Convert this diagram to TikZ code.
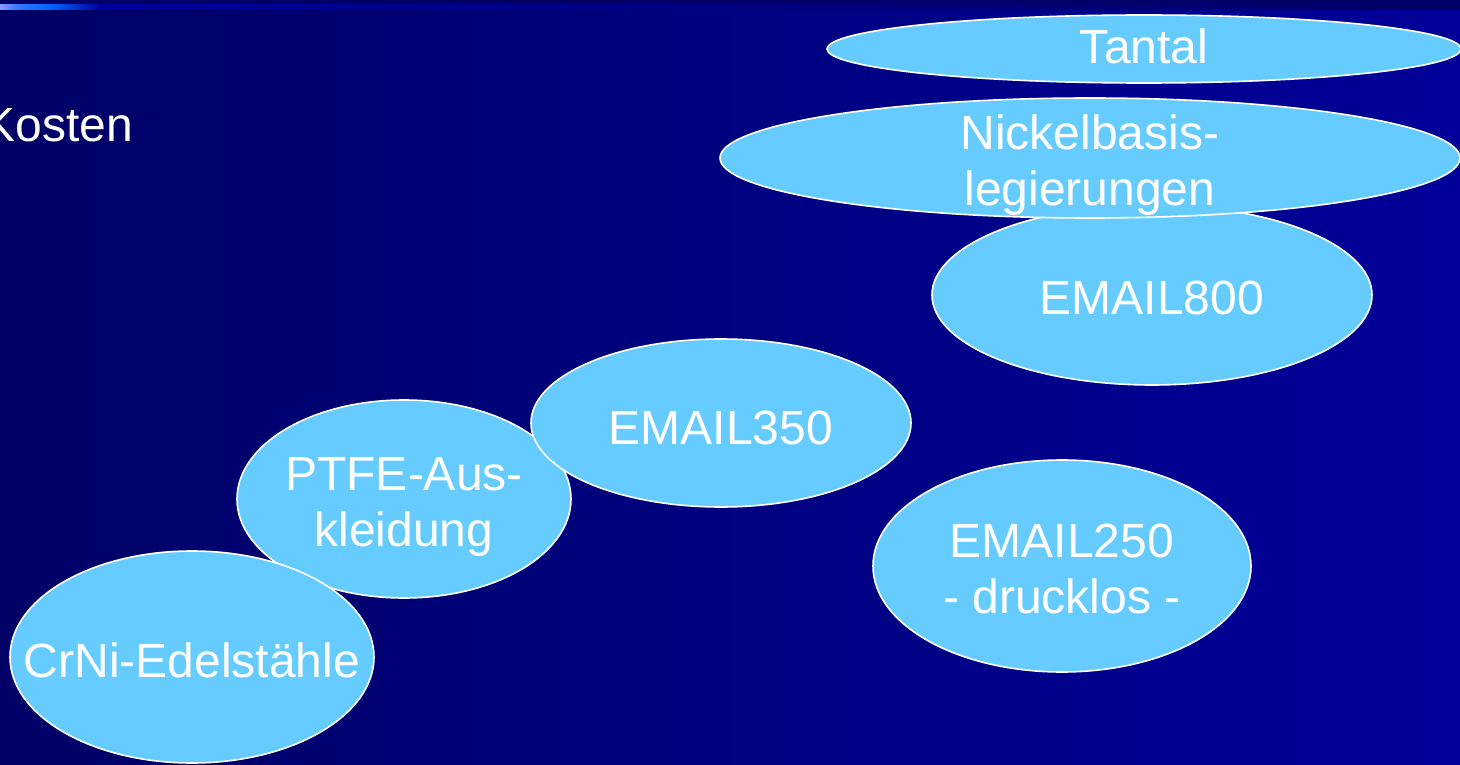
\documentclass[tikz,border=0pt]{standalone}
\usepackage{fontspec}
\setmainfont{Liberation Sans}
\usetikzlibrary{shapes.geometric}
\definecolor{bgL}{HTML}{000066}
\definecolor{bgR}{HTML}{000099}
\definecolor{sky}{HTML}{66CCFF}
\definecolor{stripA}{HTML}{8899FF}
\definecolor{stripB}{HTML}{3377FF}
\definecolor{stripC}{HTML}{0066FF}
\tikzset{
  blob/.style={ellipse, draw=white, line width=1.6pt, fill=sky, inner sep=0pt},
  txt/.style={text=white, inner sep=0pt, anchor=base, font=\fontsize{48}{55}\selectfont}
}
\begin{document}
\begin{tikzpicture}[x=1pt,y=-1pt]
\useasboundingbox (0,0) rectangle (1460,765);
\clip (0,0) rectangle (1460,765);
% background
\fill[bgL] (0,0) rectangle (1460,10);
\shade[left color=bgL, right color=bgR] (0,10) rectangle (1460,765);
% top strip
\shade[left color=stripA, right color=stripB] (0,5) rectangle (17,10);
\shade[left color=stripB, right color=stripC] (17,5) rectangle (50,10);
\shade[left color=stripC, right color=bgR] (50,5) rectangle (100,10);
\shade[left color=bgR, right color=bgL] (100,5) rectangle (1460,10);
% label
\node[txt, anchor=base east] (kosten) at (133,142) {Kosten};
% ellipses
\node[blob, minimum width=334pt, minimum height=198pt] (ptfe) at (404,499) {};
\node[txt] (ptfe1) at (404,490) {PTFE-Aus-};
\node[txt] (ptfe2) at (404,546) {kleidung};
\node[blob, minimum width=380pt, minimum height=168pt] (e350) at (721,423) {};
\node[txt] (e350t) at (721,444) {EMAIL350};
\node[blob, minimum width=364pt, minimum height=212pt] (crni) at (192,657) {};
\node[txt] (crnit) at (192,677) {CrNi-Edelstähle};
\node[blob, minimum width=440pt, minimum height=180pt] (e800) at (1152,295) {};
\node[txt] (e800t) at (1152,314) {EMAIL800};
\node[blob, minimum width=740pt, minimum height=120pt] (nickel) at (1090,158) {};
\node[txt] (nickel1) at (1090,150) {Nickelbasis-};
\node[txt] (nickel2) at (1090,205) {legierungen};
\node[blob, minimum width=634pt, minimum height=68pt] (tantal) at (1144,49) {};
\node[txt] (tantalt) at (1144,64) {Tantal};
\node[blob, minimum width=378pt, minimum height=212pt] (e250) at (1062,566) {};
\node[txt] (e250a) at (1062,557) {EMAIL250};
\node[txt] (e250b) at (1062,613) {- drucklos -};
\end{tikzpicture}
\end{document}
